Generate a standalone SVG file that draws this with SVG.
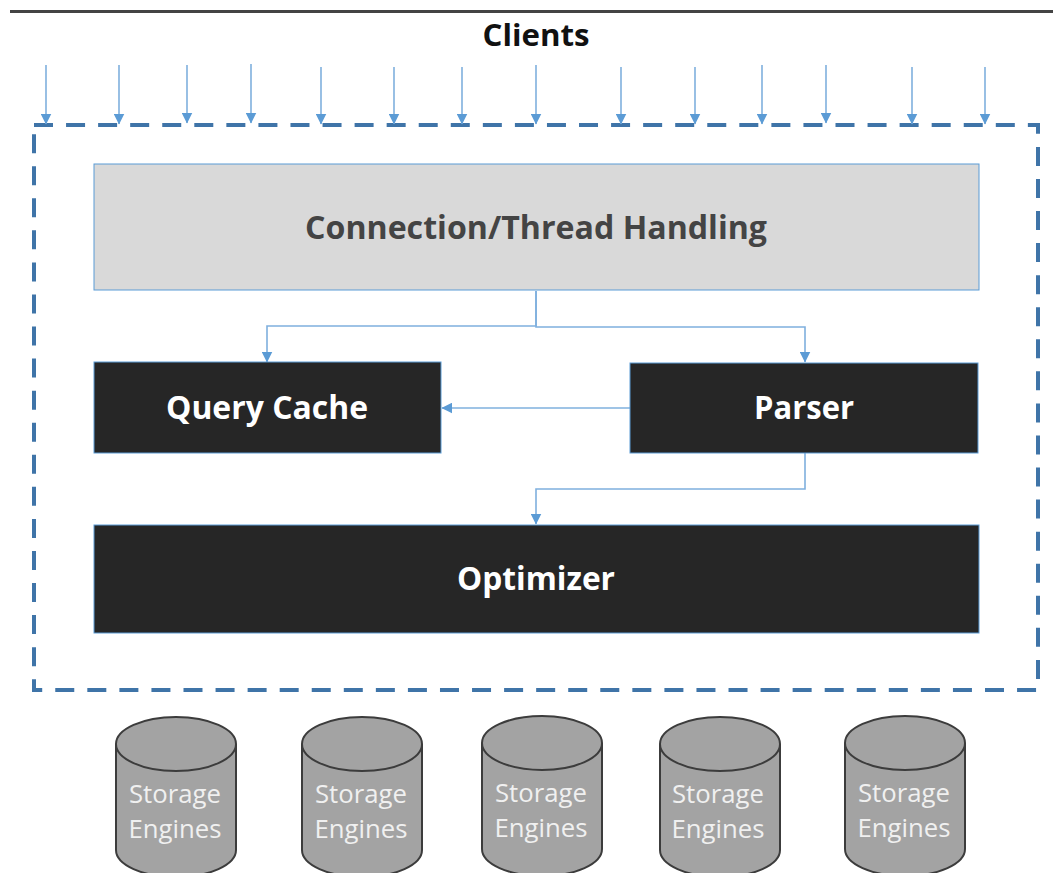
<svg xmlns="http://www.w3.org/2000/svg" width="1053" height="873" viewBox="0 0 1053 873">
<style>
.c{fill:none;stroke:#7fb0de;stroke-width:1.6}
.t{font-family:"Open Sans","Noto Sans","Liberation Sans",sans-serif;font-weight:700;text-anchor:middle}
.s{font-family:"Open Sans","Noto Sans","Liberation Sans",sans-serif;font-size:26px;fill:#f0f0f0;text-anchor:middle}
.b{fill:#262626;stroke:#5b9bd5;stroke-width:1}
.d{fill:#a3a3a3;stroke:#3c3c3c;stroke-width:2}
.h{fill:#5b9bd5}
</style>
<defs>
<marker id="a" viewBox="0 0 10 10" refX="9.5" refY="5" markerWidth="11" markerHeight="11" markerUnits="userSpaceOnUse" orient="auto"><path d="M0 0L10 5L0 10Z" class="h"/></marker>
<g id="cyl"><path class="d" d="M0 27V133A60 27 0 0 0 120 133V27"/><ellipse class="d" cx="60" cy="27" rx="60" ry="27"/></g>
</defs>
<rect width="1053" height="873" fill="#fff"/>
<rect x="10" y="10" width="1043" height="3" fill="#444"/>
<text class="t" x="536" y="46" font-size="30" textLength="107" lengthAdjust="spacingAndGlyphs" fill="#111">Clients</text>
<g id="boundary"><rect x="34" y="125" width="1004" height="565" fill="none" stroke="#3f74a8" stroke-width="4" stroke-dasharray="19 13.06"/></g>
<g id="connectors">
<path class="c" marker-end="url(#a)" d="M46 65V124"/>
<path class="c" marker-end="url(#a)" d="M119 65V124"/>
<path class="c" marker-end="url(#a)" d="M187 65V123"/>
<path class="c" marker-end="url(#a)" d="M251 64V123"/>
<path class="c" marker-end="url(#a)" d="M321 67V124"/>
<path class="c" marker-end="url(#a)" d="M394 67V124"/>
<path class="c" marker-end="url(#a)" d="M462 67V124"/>
<path class="c" marker-end="url(#a)" d="M536 65V124"/>
<path class="c" marker-end="url(#a)" d="M621 67V124"/>
<path class="c" marker-end="url(#a)" d="M695 67V124"/>
<path class="c" marker-end="url(#a)" d="M762 65V124"/>
<path class="c" marker-end="url(#a)" d="M826 65V123"/>
<path class="c" marker-end="url(#a)" d="M912 67V124"/>
<path class="c" marker-end="url(#a)" d="M985 67V124"/>
<path class="c" marker-end="url(#a)" d="M536 291V326H267V362"/>
<path class="c" marker-end="url(#a)" d="M536 291V327H805V362"/>
<path class="c" marker-end="url(#a)" d="M630 408H442"/>
<path class="c" marker-end="url(#a)" d="M805 453V489H536V524"/>
</g>
<g id="connection"><rect x="94" y="164" width="885" height="126" fill="#d9d9d9" stroke="#5b9bd5" stroke-width="1"/><text class="t" x="536" y="239" font-size="33" textLength="462" lengthAdjust="spacingAndGlyphs" fill="#444">Connection/Thread Handling</text></g>
<g id="query-cache"><rect class="b" x="94" y="362" width="347" height="91"/><text class="t" x="267" y="419" font-size="33" textLength="202" lengthAdjust="spacingAndGlyphs" fill="#fff">Query Cache</text></g>
<g id="parser"><rect class="b" x="630" y="363" width="348" height="90"/><text class="t" x="804" y="419" font-size="33" textLength="100" lengthAdjust="spacingAndGlyphs" fill="#fff">Parser</text></g>
<g id="optimizer"><rect class="b" x="94" y="525" width="885" height="108"/><text class="t" x="536" y="590" font-size="33" textLength="158" lengthAdjust="spacingAndGlyphs" fill="#fff">Optimizer</text></g>
<g id="storage-1"><use href="#cyl" x="116" y="717"/><text class="s" x="175" y="803" textLength="92" lengthAdjust="spacingAndGlyphs">Storage</text><text class="s" x="175" y="838" textLength="93" lengthAdjust="spacingAndGlyphs">Engines</text></g>
<g id="storage-2"><use href="#cyl" x="302" y="717"/><text class="s" x="361" y="803" textLength="92" lengthAdjust="spacingAndGlyphs">Storage</text><text class="s" x="361" y="838" textLength="93" lengthAdjust="spacingAndGlyphs">Engines</text></g>
<g id="storage-3"><use href="#cyl" x="482" y="716"/><text class="s" x="541" y="802" textLength="92" lengthAdjust="spacingAndGlyphs">Storage</text><text class="s" x="541" y="837" textLength="93" lengthAdjust="spacingAndGlyphs">Engines</text></g>
<g id="storage-4"><use href="#cyl" x="660" y="717"/><text class="s" x="718" y="803" textLength="92" lengthAdjust="spacingAndGlyphs">Storage</text><text class="s" x="718" y="838" textLength="93" lengthAdjust="spacingAndGlyphs">Engines</text></g>
<g id="storage-5"><use href="#cyl" x="845" y="716"/><text class="s" x="904" y="802" textLength="92" lengthAdjust="spacingAndGlyphs">Storage</text><text class="s" x="904" y="837" textLength="93" lengthAdjust="spacingAndGlyphs">Engines</text></g>
</svg>
